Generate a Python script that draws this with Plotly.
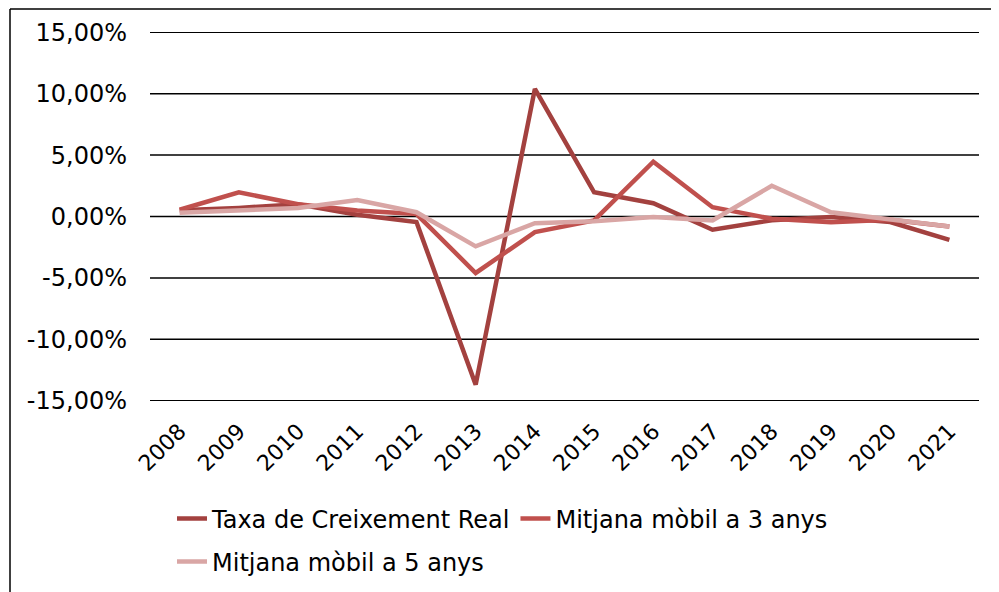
import plotly.graph_objects as go

years = ["2008", "2009", "2010", "2011", "2012", "2013", "2014",
         "2015", "2016", "2017", "2018", "2019", "2020", "2021"]

taxa_real = [0.5, 0.7, 1.0, 0.15, -0.45, -13.7, 10.4,
             1.97, 1.08, -1.08, -0.3, -0.05, -0.45, -1.9]
mitjana_3 = [0.55, 1.97, 1.0, 0.49, 0.2, -4.6, -1.27,
             -0.32, 4.46, 0.76, -0.19, -0.46, -0.27, -0.81]
mitjana_5 = [0.3, 0.54, 0.7, 1.35, 0.35, -2.43, -0.54,
             -0.38, -0.05, -0.32, 2.5, 0.35, -0.19, -0.81]

series_names = ["Taxa de Creixement Real", "Mitjana mòbil a 3 anys", "Mitjana mòbil a 5 anys"]
series_colors = ["#A3413F", "#C0504D", "#D9A6A5"]

y_tick_vals = [-15, -10, -5, 0, 5, 10, 15]
y_tick_text = ["-15,00%", "-10,00%", "-5,00%", "0,00%", "5,00%", "10,00%", "15,00%"]

FONT = "DejaVu Sans, Verdana, sans-serif"

fig = go.Figure()

# page body has an 8px default margin: work in figure coordinates
W, H = 991, 584
L, R, T, B = 142, 20, 24, 191
pw = W - L - R
ph = H - T - B

# gridlines drawn as shapes so the edge ones are kept
for v in y_tick_vals:
    fig.add_shape(type="line", xref="paper", yref="y", x0=0, x1=1,
                  y0=v, y1=v, line=dict(color="black", width=1.5), layer="below")

for vals, name, col, lg in zip([taxa_real, mitjana_3, mitjana_5], series_names,
                               series_colors, ["legend", "legend", "legend2"]):
    fig.add_trace(go.Scatter(x=years, y=vals, name=name, mode="lines",
                             line=dict(color=col, width=4.5), legend=lg))


def legend_y(py):
    return -(py - (T + ph)) / ph

fig.update_layout(
    width=W, height=H,
    margin=dict(l=L, r=R, t=T, b=B, autoexpand=False),
    paper_bgcolor="white", plot_bgcolor="white",
    font=dict(family=FONT, size=22, color="black"),
    xaxis=dict(type="category", range=[-0.5, 13.5], showgrid=False,
               tickangle=-45, tickfont=dict(size=22), showline=False,
               ticks="", zeroline=False, automargin=False,
               ticklabelstandoff=12),
    yaxis=dict(range=[-15.03, 15.03], tickvals=y_tick_vals, ticktext=y_tick_text,
               showgrid=False, zeroline=False, automargin=False,
               showline=False, ticks="", tickfont=dict(size=24),
               ticklabelstandoff=22),
    legend=dict(orientation="h", x=(164 - L) / pw, xanchor="left",
                y=legend_y(511), yanchor="middle",
                font=dict(size=24), bgcolor="rgba(0,0,0,0)",
                itemwidth=30, tracegroupgap=0),
    legend2=dict(orientation="h", x=(164 - L) / pw, xanchor="left",
                 y=legend_y(554), yanchor="middle",
                 font=dict(size=24), bgcolor="rgba(0,0,0,0)",
                 itemwidth=30),
    showlegend=True,
)

# outer frame (left and top edges visible)
x_left = (2 - L) / pw
y_top = (T + ph - 1) / ph
y_bot = (T + ph - H - 5) / ph
fig.add_shape(type="line", xref="paper", yref="paper",
              x0=x_left, x1=x_left, y0=y_bot, y1=y_top,
              line=dict(color="black", width=1.5))
fig.add_shape(type="line", xref="paper", yref="paper",
              x0=x_left, x1=(W + 10 - L) / pw, y0=y_top, y1=y_top,
              line=dict(color="black", width=1.5))

fig.write_html("out.html")
